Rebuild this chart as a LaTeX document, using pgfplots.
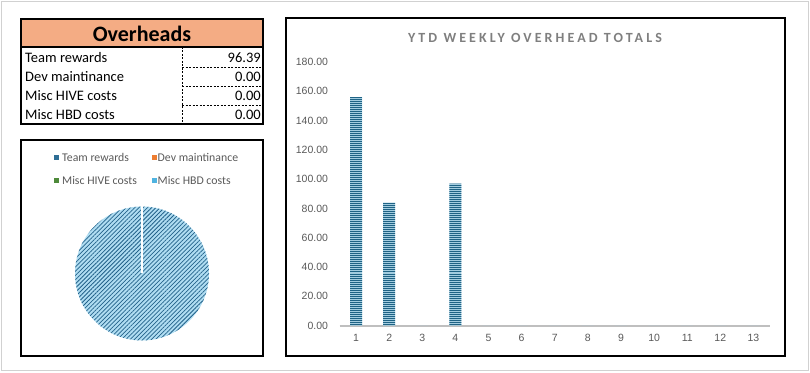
\documentclass[border=0pt]{standalone}
\usepackage{fontspec}
\setmainfont{Carlito}
\newfontfamily\arial{Liberation Sans}
\newfontfamily\titlefont[LetterSpace=22]{Carlito}
\usepackage{pgfplots}
\pgfplotsset{compat=1.18}
\usetikzlibrary{patterns.meta}
\definecolor{salmon}{HTML}{F4AC84}
\definecolor{txtgray}{HTML}{595959}
\definecolor{titlegray}{HTML}{7F7F7F}
\definecolor{barDark}{HTML}{1F6385}
\definecolor{barLight}{HTML}{A3CDE0}
\definecolor{pieLight}{HTML}{B0DDF2}
\definecolor{pieDark}{HTML}{23628A}
\definecolor{axisgray}{HTML}{BFBFBF}
\definecolor{legBlue}{HTML}{2E6E95}
\definecolor{legOrange}{HTML}{ED7D31}
\definecolor{legGreen}{HTML}{4E8A3A}
\definecolor{legCyan}{HTML}{4FB3E0}
% overhead values (table / pie)
\def\teamrewards{96.39}
\def\devmaint{0}
\def\mischive{0}
\def\mischbd{0}
\begin{document}
\begin{tikzpicture}
\path[use as bounding box] (0,0) rectangle (810pt,372pt);
\begin{scope}[x=1pt,y=-1pt,shift={(0,-372)}]
  % outer frame
  \draw[black!18, line width=1pt] (1.5,1.5) rectangle (808.5,370.5);
  % table
  \fill[salmon] (21,19) rectangle (263,47);
  \draw[line width=1.5pt] (21,47) -- (263,47);
  \draw[dash pattern=on 2pt off 1.5pt, line width=0.8pt] (182,47) -- (182,124);
  \foreach \yy in {67,86,105}{\draw[dash pattern=on 2pt off 1.5pt, line width=0.8pt] (182,\yy) -- (263,\yy);}
  \draw[line width=2pt] (21,19) rectangle (263,124);
  \node[font=\bfseries\fontsize{22}{25}\selectfont] at (142,33.5) {Overheads};
  \begin{scope}[every node/.style={font=\fontsize{14.5}{16}\selectfont, inner sep=0pt}]
    \node[anchor=base west] at (25,62.5) {Team rewards};
    \node[anchor=base west] at (25,81.5) {Dev maintinance};
    \node[anchor=base west] at (25,100.5) {Misc HIVE costs};
    \node[anchor=base west] at (25,119.5) {Misc HBD costs};
    \node[anchor=base east] at (261,62.5) {96.39};
    \node[anchor=base east] at (261,81.5) {0.00};
    \node[anchor=base east] at (261,100.5) {0.00};
    \node[anchor=base east] at (261,119.5) {0.00};
  \end{scope}
  % pie panel
  \draw[line width=2pt] (21,140) rectangle (263,356);
  \fill[legBlue] (53.5,155) rectangle (58.5,160);
  \fill[legOrange] (151.5,155) rectangle (156.5,160);
  \fill[legGreen] (53.5,178) rectangle (58.5,183);
  \fill[legCyan] (151.5,178) rectangle (156.5,183);
  \begin{scope}[every node/.style={font=\fontsize{11.8}{13}\selectfont, text=txtgray, inner sep=0pt, anchor=west}]
    \node at (62,157.5) {Team rewards};
    \node at (157.5,157.5) {Dev maintinance};
    \node at (62,180.5) {Misc HIVE costs};
    \node at (157.5,180.5) {Misc HBD costs};
  \end{scope}
  % chart panel
  \draw[line width=2pt] (286,18) rectangle (785,356);
  \node[font=\titlefont\bfseries\fontsize{14}{16}\selectfont, text=titlegray] at (535,37.5) {YTD WEEKLY OVERHEAD TOTALS};
\end{scope}

% pie
\pgfmathsetmacro{\tot}{\teamrewards+\devmaint+\mischive+\mischbd}
\pgfmathsetmacro{\ang}{360*(\teamrewards/\tot)}
\begin{axis}[at={(142pt,98.5pt)}, anchor=center, scale only axis,
  width=134pt, height=134pt, xmin=-1, xmax=1, ymin=-1, ymax=1, hide axis, clip=false]
  \fill[pieLight, postaction={pattern={Lines[angle=45,distance=3pt,line width=0.75pt]}, pattern color=pieDark}]
    (axis cs:0,0) -- (axis cs:0,1) arc[start angle=90, delta angle=-\ang, radius=67pt] -- cycle;
  \draw[white, line width=1.6pt] (axis cs:0,0) -- (axis cs:0,1);
\end{axis}

% bar chart
\begin{axis}[at={(339.5pt,46.5pt)}, anchor=south west, scale only axis,
  width=430.5pt, height=263.5pt,
  xmin=0.5, xmax=13.5, ymin=0, ymax=180,
  axis x line*=bottom, axis y line*=left,
  x axis line style={axisgray, line width=2pt, -},
  y axis line style={draw=none},
  xtick={1,...,13}, ytick={0,20,...,180},
  major tick length=0pt,
  yticklabel style={font=\arial\fontsize{10.5}{12}\selectfont, text=txtgray, xshift=-8pt,
    /pgf/number format/.cd, fixed, fixed zerofill, precision=2, assume math mode=true},
  xticklabel style={font=\arial\fontsize{10.5}{12}\selectfont, text=txtgray, yshift=-5pt,
    /pgf/number format/assume math mode=true},
  ybar, bar width=12pt,
]
\addplot[draw=none, fill=barLight,
  postaction={pattern={Lines[angle=0,distance=2pt,line width=1pt]}, pattern color=barDark}]
  coordinates {(1,156) (2,84) (3,0) (4,97) (5,0) (6,0) (7,0) (8,0) (9,0) (10,0) (11,0) (12,0) (13,0)};
\end{axis}
\end{tikzpicture}
\end{document}
